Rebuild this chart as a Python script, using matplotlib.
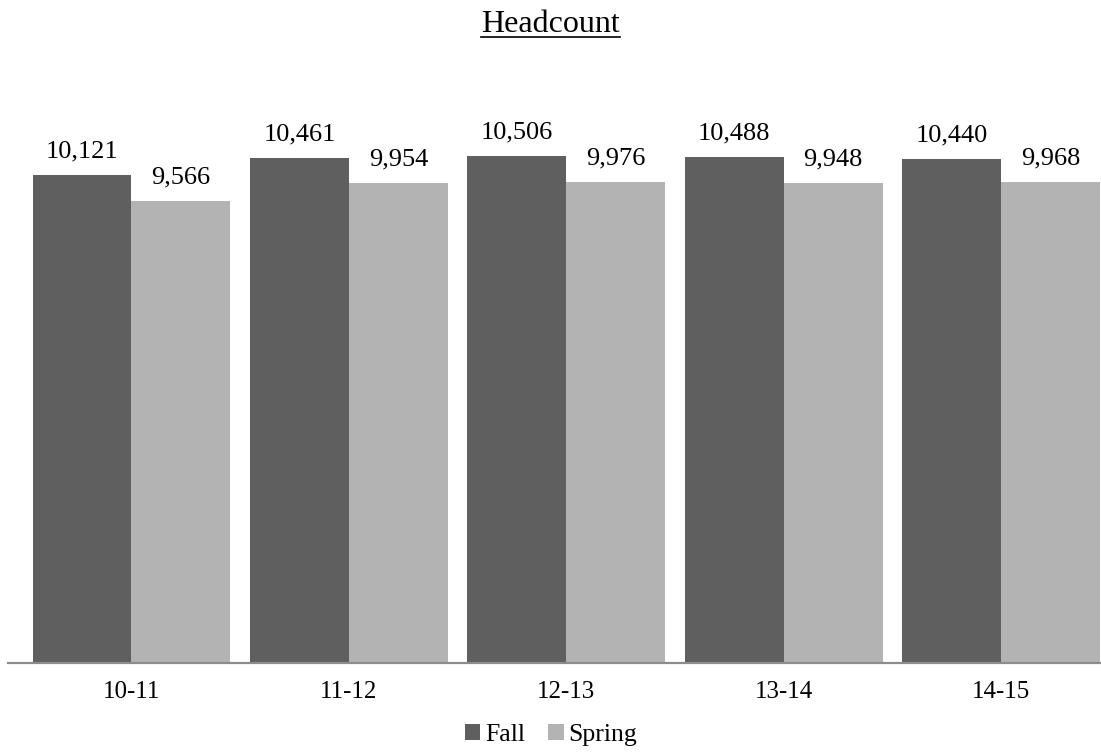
import matplotlib
matplotlib.use("Agg")
import matplotlib.pyplot as plt
from matplotlib.lines import Line2D
import numpy as np

# data
years = ["10-11", "11-12", "12-13", "13-14", "14-15"]
fall = [10121, 10461, 10506, 10488, 10440]
spring = [9566, 9954, 9976, 9948, 9968]

plt.rcParams['font.family'] = ['Liberation Serif', 'DejaVu Serif']

fig = plt.figure(figsize=(11.01, 7.54), dpi=100)
ax = fig.add_axes([8/1101, 91/754, 1093/1101, 579/754])

x = np.arange(len(years))
w = 0.455
b1 = ax.bar(x - w/2, fall, w, color='#5f5f5f', label='Fall')
b2 = ax.bar(x + w/2, spring, w, color='#b3b3b3', label='Spring')

for bars in (b1, b2):
    for r in bars:
        ax.annotate(f"{int(r.get_height()):,}",
                    (r.get_x() + r.get_width()/2, r.get_height()),
                    xytext=(0, 9), textcoords='offset points',
                    ha='center', va='bottom', fontsize=19)

ax.set_xlim(-0.568, 4.46)
ax.set_ylim(0, 12000)
ax.set_xticks(x)
ax.set_xticklabels(years, fontsize=18)
ax.tick_params(axis='x', length=0, pad=13)
ax.set_yticks([])
for s in ['top', 'right', 'left']:
    ax.spines[s].set_visible(False)
ax.spines['bottom'].set_color('#8c8c8c')
ax.spines['bottom'].set_linewidth(1.6)

fig.legend(handles=[b1, b2], loc='center', bbox_to_anchor=(551/1101, 1 - 735/754),
           ncol=2, frameon=False, fontsize=18.5, handlelength=0.6, handleheight=0.6,
           handletextpad=0.2, columnspacing=0.9)

# title with underline
t = fig.text(0.5, 1 - 32/754, "Headcount", ha='center', va='baseline', fontsize=23)
fig.canvas.draw()
bb = t.get_window_extent().transformed(fig.transFigure.inverted())
uy = 1 - 37/754
fig.add_artist(Line2D([bb.x0, bb.x1], [uy, uy], color='black', linewidth=1.2,
                      transform=fig.transFigure))

fig.savefig("out.png", dpi=100)
